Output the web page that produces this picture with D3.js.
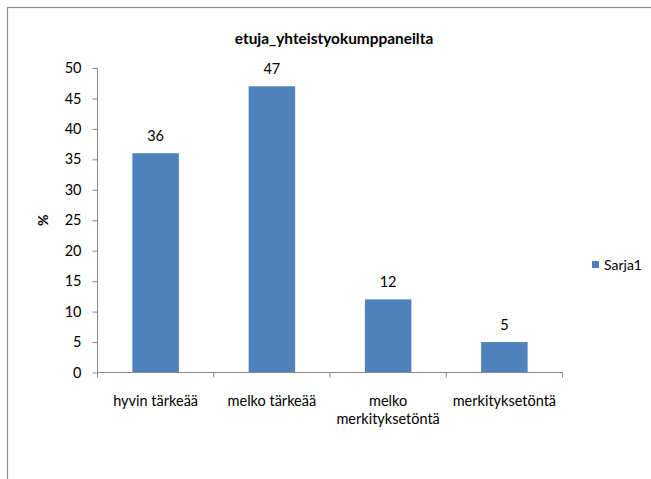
<!DOCTYPE html>
<html>
<head>
<meta charset="utf-8">
<script src="https://cdn.jsdelivr.net/npm/d3@7"></script>
<style>
  html, body { margin: 0; padding: 0; background: #fff; }
  svg { display: block; font-family: Lato, "Liberation Sans", sans-serif; }
</style>
</head>
<body>
<svg id="chart" width="651" height="479"></svg>
<script>
// Survey responses, share of respondents (%)
const chartTitle = "etuja_yhteistyokumppaneilta";
const categories = ["hyvin tärkeää", "melko tärkeää", "melko merkityksetöntä", "merkityksetöntä"];
const categoryLines = [["hyvin tärkeää"], ["melko tärkeää"], ["melko", "merkityksetöntä"], ["merkityksetöntä"]];
const seriesName = "Sarja1";
const values = [36, 47, 12, 5];
const yTicks = [0, 5, 10, 15, 20, 25, 30, 35, 40, 45, 50];
const yLabel = "%";

const svg = d3.select("#chart");
const axisColor = "#868686";
const barColor = "#4f81bd";

// chart frame
svg.append("rect")
  .attr("x", 7.5).attr("y", 7.5)
  .attr("width", 700).attr("height", 600)
  .attr("fill", "none").attr("stroke", "#8c8c8c").attr("stroke-width", 1.2);

const plot = { left: 97.5, right: 562.5, top: 68, bottom: 372.5 };

const x = d3.scaleBand().domain(categories)
  .range([plot.left, plot.right]).paddingInner(0.6).paddingOuter(0.3);
const xCat = d3.scaleBand().domain(categories).range([plot.left, plot.right]);
const y = d3.scaleLinear().domain([0, 50]).range([plot.bottom, plot.top]);

// title
svg.append("text")
  .attr("x", 334).attr("y", 44)
  .attr("text-anchor", "middle")
  .attr("font-size", 15.4).attr("font-weight", "bold")
  .attr("fill", "#000")
  .text(chartTitle);

// y axis
const yAxis = svg.append("g")
  .attr("transform", `translate(${plot.left},0)`)
  .call(d3.axisLeft(y).tickValues(yTicks).tickSize(5).tickPadding(11).tickFormat(d3.format("d")));
yAxis.select(".domain").attr("stroke", axisColor).attr("d", `M0,${plot.top}V${plot.bottom}`);
yAxis.selectAll(".tick line").attr("stroke", axisColor);
yAxis.selectAll(".tick text").attr("font-size", 14.5).attr("fill", "#000")
  .attr("font-family", "Lato, sans-serif");

// y axis title
svg.append("text")
  .attr("transform", `translate(48,${(plot.top + plot.bottom) / 2}) rotate(-90)`)
  .attr("text-anchor", "middle")
  .attr("font-size", 14).attr("font-weight", "bold")
  .text(yLabel);

// bars
svg.append("g").selectAll("rect")
  .data(values)
  .join("rect")
  .attr("x", (d, i) => x(categories[i]))
  .attr("y", d => y(d))
  .attr("width", x.bandwidth())
  .attr("height", d => y(0) - y(d))
  .attr("fill", barColor);

// value labels
svg.append("g").selectAll("text")
  .data(values)
  .join("text")
  .attr("x", (d, i) => x(categories[i]) + x.bandwidth() / 2)
  .attr("y", d => y(d) - 12)
  .attr("text-anchor", "middle")
  .attr("font-size", 14.5)
  .attr("fill", "#000")
  .text(d => d);

// x axis with category boundary ticks
const xAxisG = svg.append("g");
xAxisG.append("line")
  .attr("x1", plot.left).attr("x2", plot.right)
  .attr("y1", plot.bottom).attr("y2", plot.bottom)
  .attr("stroke", axisColor);
const boundaries = categories.map(c => xCat(c)).concat([plot.right]);
xAxisG.selectAll("line.tick")
  .data(boundaries)
  .join("line")
  .attr("class", "tick")
  .attr("x1", d => d).attr("x2", d => d)
  .attr("y1", plot.bottom).attr("y2", plot.bottom + 5)
  .attr("stroke", axisColor);

// category labels
const catLabels = svg.append("g").selectAll("text")
  .data(categoryLines)
  .join("text")
  .attr("text-anchor", "middle")
  .attr("font-size", 14.5)
  .attr("fill", "#000")
  .attr("transform", (d, i) => `translate(${xCat(categories[i]) + xCat.bandwidth() / 2},406)`);
catLabels.selectAll("tspan")
  .data(d => d)
  .join("tspan")
  .attr("x", 0)
  .attr("dy", (d, i) => i === 0 ? 0 : 18)
  .text(d => d);

// legend
const legend = svg.append("g").attr("transform", "translate(592,261)");
legend.append("rect").attr("width", 7).attr("height", 7).attr("fill", barColor);
legend.append("text").attr("x", 12).attr("y", 9)
  .attr("font-size", 14).attr("fill", "#000").text(seriesName);
</script>
</body>
</html>
